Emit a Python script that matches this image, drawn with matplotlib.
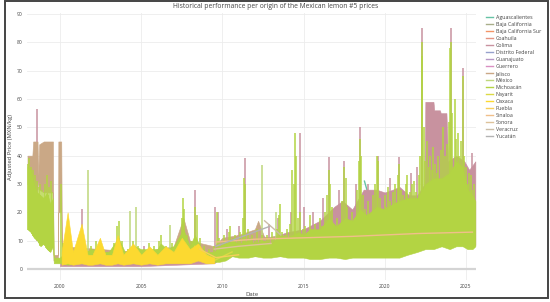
import numpy as np
import matplotlib
matplotlib.use("Agg")
import matplotlib.pyplot as plt
from matplotlib.patches import Rectangle

plt.rcParams["font.family"] = ["Open Sans", "DejaVu Sans"]

STATES = ["Aguascalientes", "Baja California", "Baja California Sur", "Coahuila",
          "Colima", "Distrito Federal", "Guanajuato", "Guerrero", "Jalisco", "México",
          "Michoacán", "Nayarit", "Oaxaca", "Puebla", "Sinaloa", "Sonora", "Veracruz",
          "Yucatán"]
COLORS = ["#66c2a5", "#a9ae8a", "#f39466", "#e49483", "#c8929f", "#96a1cc", "#b697c6",
          "#d98fc2", "#caa886", "#bfd77c", "#b3d443", "#dcda45", "#fcd930", "#f6cf5a",
          "#f0bf8a", "#ddc29a", "#cbbda8", "#b3b3b3"]

# --- dense series, stored as low / high envelopes (decimal years) plus spikes ---
MICH_DATES = [1998.00, 1998.20, 1998.40, 1998.60, 1998.80, 1999.00, 1999.20, 1999.40, 1999.57,
              1999.62, 2000.00, 2000.50, 2001.00, 2001.50, 2002.00, 2002.50, 2003.00, 2003.60,
              2004.00, 2004.60, 2005.00, 2005.50, 2006.00, 2006.20, 2006.60, 2007.00, 2007.60,
              2008.00, 2008.30, 2008.70, 2009.00, 2009.50, 2009.80, 2010.20, 2010.60, 2011.00,
              2011.60, 2012.00, 2012.50, 2013.00, 2013.55, 2014.00, 2014.70, 2015.00, 2015.40,
              2016.00, 2016.56, 2017.00, 2017.55, 2018.00, 2018.47, 2018.90, 2019.50, 2020.00,
              2020.50, 2020.90, 2021.40, 2022.00, 2022.50, 2023.00, 2023.50, 2024.00, 2024.40,
              2024.80, 2025.10, 2025.40, 2025.58]
MICH_LO = [14, 13, 11, 10, 8, 9, 7, 6, 8, 2, 2, 1.5, 2, 2, 2, 2, 2.5, 3, 2.5, 3, 3, 3, 3, 3, 3,
           3, 3.5, 3, 3.5, 3, 3, 2.5, 2.5, 3, 4.5, 4, 4, 4.5, 4, 4, 4.5, 4, 4, 4, 3.5, 3.5, 4, 4,
           3.5, 4, 4, 4, 4, 4, 4, 4, 5, 6, 7, 7, 8, 7, 8, 8, 7, 7, 8]
MICH_HI = [36, 35, 30, 27, 26, 25, 27, 23, 25, 4, 4, 7, 6, 6, 7, 6, 6, 11, 6, 8, 7, 7, 7, 9, 7,
           8, 14, 8, 12, 7, 6, 6, 8, 9, 10, 9, 10, 9, 10, 9, 12, 11, 13, 12, 14, 14, 18, 15, 18,
           17, 21, 19, 22, 21, 23, 24, 25, 25, 30, 32, 32, 34, 38, 36, 28, 26, 24]
MICH_SPIKE_DATES = [
    1998.02, 1998.08, 1998.14, 1998.20, 1998.26, 1998.32, 1998.38, 1998.44, 1998.50, 1998.56,
    1998.62, 1998.68, 1998.74, 1998.80, 1998.86, 1998.92, 1998.98, 1999.04, 1999.10, 1999.16,
    1999.22, 1999.28, 1999.34, 1999.40, 1999.46, 1999.52,
    2000.05, 2000.20, 2000.40, 2000.60, 2000.90, 2001.20, 2001.50, 2001.90, 2002.20, 2002.50,
    2002.90, 2003.30, 2003.50, 2003.65, 2003.80, 2004.20, 2004.50, 2004.80, 2005.20, 2005.50,
    2005.80, 2006.10, 2006.25, 2006.50, 2006.90, 2007.30, 2007.50, 2007.57, 2007.65, 2007.80,
    2008.10, 2008.30, 2008.45, 2008.60, 2008.90, 2009.20, 2009.50,
    2009.65, 2009.80, 2009.95, 2010.10, 2010.25, 2010.40, 2010.50, 2010.65, 2010.80, 2010.95,
    2011.10, 2011.25, 2011.35, 2011.42, 2011.55, 2011.70, 2011.85, 2012.00, 2012.15, 2012.30,
    2012.45, 2012.60, 2012.75, 2012.90, 2013.05, 2013.20, 2013.35, 2013.50, 2013.55, 2013.70,
    2013.85, 2014.00, 2014.15, 2014.30, 2014.40, 2014.47, 2014.55, 2014.65, 2014.80, 2014.95,
    2015.10, 2015.25, 2015.40, 2015.55, 2015.70, 2015.85, 2016.00, 2016.15, 2016.30, 2016.45,
    2016.56, 2016.65, 2016.75, 2016.90, 2017.05, 2017.20, 2017.35, 2017.50, 2017.60, 2017.70,
    2017.85, 2018.00, 2018.15, 2018.30, 2018.40, 2018.47, 2018.52, 2018.65, 2018.80, 2018.95,
    2019.10, 2019.25, 2019.40, 2019.50, 2019.56, 2019.70, 2019.85, 2020.00, 2020.10, 2020.20,
    2020.35, 2020.50, 2020.65, 2020.80, 2020.90, 2021.00, 2021.15, 2021.30, 2021.40, 2021.55,
    2021.70, 2021.80, 2021.95, 2022.10, 2022.20, 2022.27, 2022.30, 2022.40, 2022.50, 2022.60,
    2022.70, 2022.80, 2022.90, 2023.00, 2023.10, 2023.20, 2023.30, 2023.45, 2023.60, 2023.70,
    2023.85, 2023.95, 2024.00, 2024.05, 2024.15, 2024.30, 2024.40, 2024.50, 2024.60, 2024.70,
    2024.80, 2024.90, 2025.00, 2025.10, 2025.20, 2025.30, 2025.40, 2025.50]
MICH_SPIKE_TOPS = [
    37, 39, 33, 36, 30, 35, 27, 33, 25, 31, 24, 29, 26, 30, 22, 28, 25, 27, 30, 24,
    33, 26, 29, 22, 31, 27,
    30, 9, 12, 8, 7, 9, 7, 8, 10, 7, 6, 9, 15, 17, 10, 7, 10, 8, 7, 9,
    8, 10, 12, 8, 9, 10, 18, 25, 21, 12, 10, 22, 19, 11, 8, 7, 8,
    20, 11, 9, 12, 10, 13, 15, 11, 12, 10, 13, 18, 32, 30, 14, 11, 12, 10, 14, 11,
    12, 10, 12, 11, 13, 11, 14, 19, 23, 13, 12, 14, 16, 35, 30, 48, 40, 18, 20, 14,
    15, 13, 19, 14, 16, 13, 18, 15, 20, 26, 35, 30, 22, 16, 18, 15, 24, 36, 32, 22,
    17, 20, 18, 28, 38, 46, 40, 26, 21, 24, 19, 26, 30, 40, 38, 25, 21, 26, 22, 29,
    24, 27, 30, 33, 37, 28, 26, 30, 33, 27, 30, 31, 27, 33, 40, 80, 75, 50, 38, 45,
    36, 40, 35, 43, 37, 34, 40, 42, 50, 40, 44, 52, 78, 80, 55, 60, 46, 48, 40, 45,
    68, 40, 36, 30, 34, 33, 28, 30]

COL_DATES = [2000.0, 2005.0, 2009.5, 2010.0, 2011.0, 2012.0, 2013.0, 2014.0, 2015.0, 2016.0,
             2016.9, 2017.4, 2018.0, 2018.7, 2019.5, 2020.0, 2020.5, 2020.9, 2021.5, 2022.0,
             2022.45, 2022.5, 2023.0, 2023.05, 2023.4, 2023.45, 2023.8, 2023.9, 2024.4, 2024.9,
             2025.2, 2025.58]
COL_LO = [1, 1, 2, 4.5, 4.5, 4.5, 4.5, 4.5, 4.5, 4.5, 4.5, 4.5, 4.5, 4.5, 4.5, 4.5, 4.5, 4.5,
          5.5, 6.5, 7.5, 8, 8, 8, 8.5, 8.5, 8, 8, 8.5, 8.5, 8, 8.5]
COL_HI = [4, 5, 7, 10, 12, 12, 11, 13, 14, 17, 22, 24, 21, 28, 28, 27, 28, 29, 26, 26, 30, 59,
          59, 56, 56, 55, 55, 38, 40, 38, 35, 38]
COL_SPIKE_DATES = [1998.60, 2001.33, 2005.20, 2008.30, 2009.55, 2009.75, 2010.30, 2011.00,
                   2011.40, 2012.90, 2013.40, 2014.20, 2014.80, 2015.00, 2015.60, 2016.20,
                   2016.56, 2017.20, 2017.50, 2018.20, 2018.47, 2019.00, 2019.56, 2020.30,
                   2020.90, 2021.60, 2022.00, 2022.27, 2024.05, 2024.80, 2025.35, 2025.50]
COL_SPIKE_TOPS = [56.5, 21, 8, 28, 22, 20, 14, 15, 39, 16, 18, 20, 48, 22, 20, 25, 39.5, 28,
                  38, 30, 50, 30, 40, 32, 39.5, 34, 36, 85, 85, 71, 41, 35]

JAL_DATES = [1998.00, 1998.30, 1998.35, 1998.62, 1998.66, 1998.72, 1999.00, 1999.57, 1999.60,
             1999.88, 1999.90, 2000.08, 2000.12, 2005.00, 2007.00, 2007.60, 2008.00, 2009.50,
             2010.00, 2011.00, 2012.00, 2012.20, 2012.60, 2013.50, 2015.00]
JAL_LO = [30, 30, 28, 28, 31, 28, 27, 27, 3, 3, 20, 20, 3, 3, 3, 4, 4, 4, 5, 5, 5, 6, 5, 5, 5]
JAL_HI = [40, 40, 45, 45, 33, 44, 45, 45, 5, 5, 45, 45, 8, 6, 8, 18, 10, 8, 11, 12, 14, 17, 11,
          12, 12]

OAX_DATES = [2000.10, 2000.47, 2000.80, 2001.33, 2001.70, 2002.00, 2002.46, 2002.80, 2003.20,
             2003.55, 2003.90, 2004.50, 2005.00, 2005.50, 2006.00, 2006.50, 2007.00, 2007.50,
             2008.00, 2008.50, 2009.00, 2009.50]
OAX_LO = [1.5, 2, 1.5, 2, 1.5, 1.5, 2, 1.5, 1.5, 2, 1.5, 2, 1.5, 2, 1.5, 2, 2, 2, 2, 3, 2, 2]
OAX_HI = [6, 20, 6, 16, 5, 5, 11, 5, 5, 12, 5, 9, 5, 8, 5, 8, 6, 11, 7, 9, 5, 4]

MEX_SPIKE_DATES = [2001.75, 2004.30, 2004.70, 2006.80, 2012.44, 2013.30]
MEX_SPIKE_TOPS = [35, 20.6, 22, 15.5, 36.7, 20]

# --- sparse series, plain lines ---
LINES = {
    "Aguascalientes": ([2018.75, 2018.90, 2019.10], [31, 28, 26]),
    "Baja California": ([2009.6, 2010.5, 2011.5], [5, 7, 6]),
    "Baja California Sur": ([2009.4, 2010.2], [7, 4]),
    "Coahuila": ([2008.7, 2009.6, 2010.5], [6, 3, 5]),
    "Distrito Federal": ([2002.0, 2004.0, 2006.0, 2008.5, 2009.6], [5, 5.5, 5.5, 6, 4]),
    "Guanajuato": ([2008.4, 2009.7], [9, 3]),
    "Guerrero": ([2009.3, 2010.3], [4, 8]),
    "Nayarit": ([2008.3, 2009.5, 2010.6], [8, 3, 6]),
    "Puebla": ([2008.6, 2009.6, 2011.0], [7, 4, 5]),
    "Sinaloa": ([2009.6, 2012.0, 2015.0, 2018.0, 2020.0, 2022.0, 2025.4],
                [9.5, 10.5, 11, 11.5, 12, 12.5, 13]),
    "Sonora": ([2009.5, 2011.0, 2013.0], [7, 8, 9]),
    "Veracruz": ([2012.6, 2013.6], [17, 12]),
    "Yucatán": ([2009.6, 2012.9], [8, 15]),
}
YEAR_TICKS = [2000, 2005, 2010, 2015, 2020, 2025]

fig = plt.figure(figsize=(5.5, 3.02), dpi=100)
ax = fig.add_axes([27 / 550, 0.0719, 449 / 550, 0.8846])

col = dict(zip(STATES, COLORS))


def band(name, dates, lo, hi, z):
    ax.fill_between(dates, lo, hi, color=col[name], lw=0.4, edgecolor=col[name], zorder=z)


def spikes(name, dates, tops, base_dates, base_lo, z):
    base = np.interp(dates, base_dates, base_lo)
    ax.vlines(dates, base, tops, color=col[name], lw=1.1, zorder=z)


for i, s in enumerate(STATES):
    z = 2 + i
    if s == "Colima":
        band(s, COL_DATES, COL_LO, COL_HI, z)
        spikes(s, COL_SPIKE_DATES, COL_SPIKE_TOPS, MICH_DATES, MICH_LO, z)
    elif s == "Jalisco":
        band(s, JAL_DATES, JAL_LO, JAL_HI, z)
    elif s == "México":
        spikes(s, MEX_SPIKE_DATES, MEX_SPIKE_TOPS, MICH_DATES, MICH_LO, z)
    elif s == "Michoacán":
        band(s, MICH_DATES, MICH_LO, MICH_HI, z)
        spikes(s, MICH_SPIKE_DATES, MICH_SPIKE_TOPS, MICH_DATES, MICH_LO, z)
    elif s == "Oaxaca":
        band(s, OAX_DATES, OAX_LO, OAX_HI, z)
    if s in LINES:
        d, v = LINES[s]
        ax.plot(d, v, color=col[s], lw=1.0, zorder=z)
    # legend handle
    ax.plot([], [], color=col[s], lw=1.0, label=s)

ax.set_xlim(1997.97, 2025.62)
ax.set_ylim(-4, 90.3)
ax.set_xticks(YEAR_TICKS)
ax.set_xticklabels([str(y) for y in YEAR_TICKS])
ax.set_yticks(range(0, 91, 10))
ax.tick_params(length=0, labelsize=3.6, labelcolor="#444444", pad=3)
ax.grid(color="#ececec", lw=0.6, zorder=0)
ax.axhline(0, color="#d4d4d4", lw=1.6, zorder=1)
for sp in ax.spines.values():
    sp.set_visible(False)
ax.set_axisbelow(True)
ax.set_xlabel("Date", fontsize=4.3, color="#444444", labelpad=2)
ax.set_ylabel("Adjusted Price (MXN/kg)", fontsize=4.2, color="#444444", labelpad=3)

fig.text(0.502, 0.977, "Historical performance per origin of the Mexican lemon #5 prices",
         ha="center", va="center", fontsize=4.9, color="#444444")
fig.legend(loc="upper left", bbox_to_anchor=(486 / 550, 1 - 15 / 302), frameon=False,
           fontsize=3.8, handlelength=1.4, handletextpad=0.45, labelspacing=0.38,
           borderpad=0, borderaxespad=0, labelcolor="#444444")

fig.add_artist(Rectangle((0.009, 0.013), 0.987, 0.984, transform=fig.transFigure,
                         fill=False, edgecolor="#444444", lw=1.4))
fig.savefig("out.png", dpi=100)
